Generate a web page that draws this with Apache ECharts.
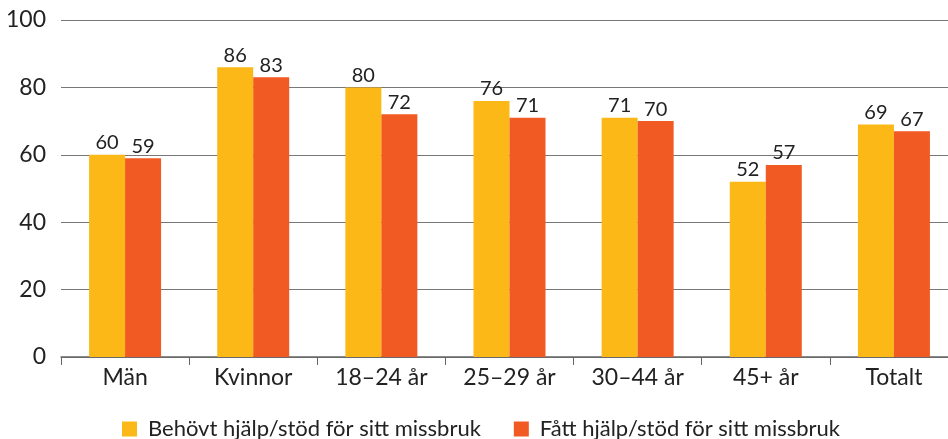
<!DOCTYPE html>
<html>
<head>
<meta charset="utf-8">
<script src="https://cdn.jsdelivr.net/npm/echarts@6/dist/echarts.min.js"></script>
<style>
  html, body { margin: 0; padding: 0; background: #fff; }
  #chart { width: 948px; height: 439px; }
</style>
</head>
<body>
<div id="chart"></div>
<script>
var categories = ['Män', 'Kvinnor', '18–24 år', '25–29 år', '30–44 år', '45+ år', 'Totalt'];
var behovt = [60, 86, 80, 76, 71, 52, 69];
var fatt = [59, 83, 72, 71, 70, 57, 67];
var seriesNames = ['Behövt hjälp/stöd för sitt missbruk', 'Fått hjälp/stöd för sitt missbruk'];

var font = 'Lato';
var chart = echarts.init(document.getElementById('chart'));
var option = {
    animation: false,
    grid: { left: 61, width: 897, top: 20, height: 337, outerBoundsMode: 'none' },
    legend: {
        top: 413,
        left: 117,
        itemWidth: 15,
        itemHeight: 15,
        itemGap: 33,
        icon: 'rect',
        textStyle: { fontFamily: font, fontSize: 22, color: '#222', padding: [0, 0, 0, 6] },
        data: seriesNames
    },
    xAxis: {
        type: 'category',
        data: categories,
        axisLine: { lineStyle: { color: '#666', width: 1.5 } },
        axisTick: { show: true, length: 8, lineStyle: { color: '#666' } },
        axisLabel: { fontFamily: font, fontSize: 23, color: '#222', margin: 9 }
    },
    yAxis: {
        type: 'value',
        min: 0,
        max: 100,
        interval: 20,
        axisLine: { show: false },
        axisTick: { show: false },
        axisLabel: { fontFamily: font, fontSize: 23, color: '#222', margin: 15 },
        splitLine: { lineStyle: { color: '#777', width: 1.2 } }
    },
    series: [
        {
            name: seriesNames[0],
            type: 'bar',
            data: behovt,
            barWidth: 36,
            barGap: '0%',
            itemStyle: { color: '#FBB817' },
            label: { show: true, position: 'top', fontFamily: font, fontSize: 20, color: '#222', distance: 2 }
        },
        {
            name: seriesNames[1],
            type: 'bar',
            data: fatt,
            barWidth: 36,
            barGap: '0%',
            itemStyle: { color: '#F15A22' },
            label: { show: true, position: 'top', fontFamily: font, fontSize: 20, color: '#222', distance: 2 }
        }
    ]
};
chart.setOption(option);
</script>
</body>
</html>
